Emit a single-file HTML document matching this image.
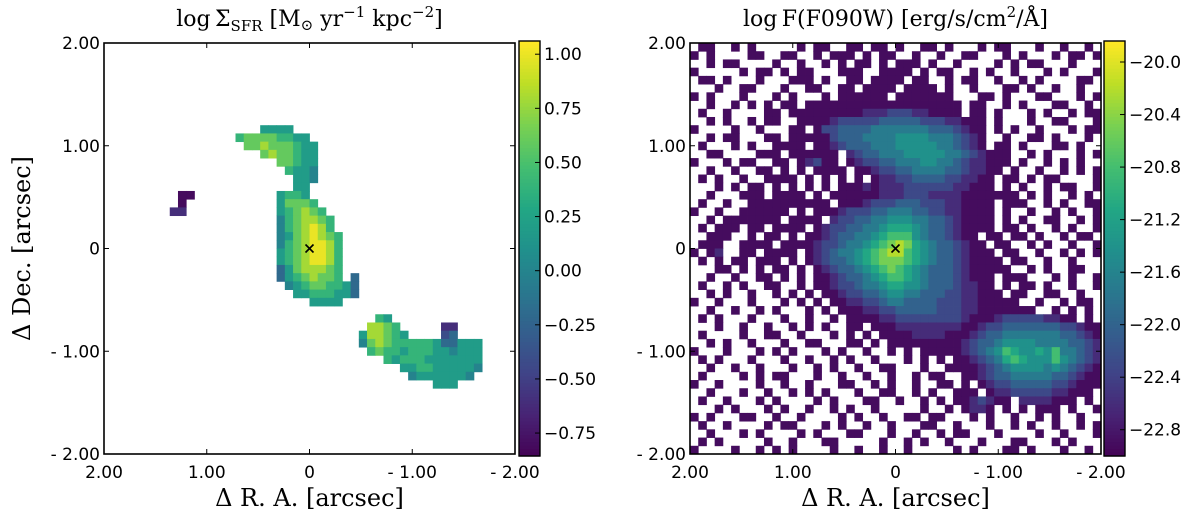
<!DOCTYPE html>
<html><head><meta charset="utf-8"><style>
body{margin:0;background:#fff;}
svg{display:block;}
.tk{font-family:"DejaVu Sans","Liberation Sans",sans-serif;font-size:17px;fill:#000;}
.sr{font-family:"DejaVu Serif","Liberation Serif",serif;fill:#000;}
</style></head><body>
<svg id="fig" width="1200" height="522" viewBox="0 0 1200 522" xmlns="http://www.w3.org/2000/svg"></svg>
<script>
// ---------- data ----------
const axisTicks = [2, 1, 0, -1, -2];
const axisTickLabels = ["2.00", "1.00", "0", "- 1.00", "- 2.00"];
const leftCbarRange = [-0.856, 1.061];
const leftCbarTicks = [1.0, 0.75, 0.5, 0.25, 0.0, -0.25, -0.5, -0.75];
const leftCbarLabels = ["1.00", "0.75", "0.50", "0.25", "0.00", "\u22120.25", "\u22120.50", "\u22120.75"];
const rightCbarRange = [-23.0, -19.84];
const rightCbarTicks = [-20.0, -20.4, -20.8, -21.2, -21.6, -22.0, -22.4, -22.8];
const rightCbarLabels = ["\u221220.0", "\u221220.4", "\u221220.8", "\u221221.2", "\u221221.6", "\u221222.0", "\u221222.4", "\u221222.8"];
// left map: level digit d -> value -0.8 + 0.2*d ; [row, startCol, digits]
const leftLevelBase = -0.8, leftLevelStep = 0.2;
const leftRows = [
 [10,19,"5555"],[11,16,"677776655"],[12,17,"778777655"],[13,19,"7877655"],[14,21,"77655"],
 [15,22,"6554"],[16,23,"554"],[17,23,"55"],[18,9,"00"],[18,21,"5665"],[19,9,"0"],[19,21,"57776"],
 [20,8,"11"],[20,21,"567876"],[21,21,"4678876"],[22,21,"4678986"],[23,21,"45789876"],[24,21,"46789986"],
 [25,21,"56789986"],[26,21,"56789986"],[27,21,"35788876"],[28,21,"35678776"],[28,30,"3"],
 [29,22,"456776653"],[30,23,"5566655"],[30,30,"3"],[31,25,"5555"],
 [33,33,"65"],[34,32,"8876"],[34,41,"11"],[35,31,"588765"],[35,41,"23"],
 [36,31,"478766666533555"],[37,32,"67665666554555"],[38,34,"656665555555"],
 [39,36,"5566555554"],[40,37,"45555554"],[41,40,"555"]
];
// right map: '.' = no data, digit d -> value -22.9 + 0.3*d (each row = 5 groups of 10 columns)
const rightLevelBase = -22.9, rightLevelStep = 0.3;
const rightRows = [
[".00..0.0..","...0.00..0","0.00.0..00",".0...0.00.","..0..0..0."],
["0.0....00.",".00..0.000",".0.00..0..","0..00...0.","0...0.00.0"],
["..0.00....","0..0..0.0.","00.0.000.0","..0....0.0",".00...0..."],
["0.....0.00",".0.00...00","0..0000.0.","00..0.0..0","...0.0...0"],
[".00.0...0.","..000.0..0","0.0000.00.",".0.00..0..","0.0....00."],
["...0..00..",".0..00..00",".0000.0000",".0..0...00",".0..0..0.."],
["0.0...0...","0.0...0.00","0000.00000","00...00.0.","..00...0.0"],
["..0..0.0.0",".00.000000","0000000000","000.00..0.","0...00..0."],
[".0..0....0","0.00000000","0111222110","000.00.0..",".0.0..0.00"],
["..0.0..0.0","0..0000122","2223333322","211000.0..",".0..00...0"],
["0....0..0.","..00.02233","3344444443","332100.0.0","..0...0.00"],
["..0.00...0","0.00000233","3444455554","443210..0.",".00.0...0."],
[".0...0.0..","0000.00123","3344455555","443210.00.","0...00.0.."],
["..00....00","0.000000.1","2334445555","544321000.",".0.0...0.0"],
["0...0.00..","00.01200.0","1223344455","443211000.","0..0.0.0.."],
["..0..0..00",".0.0.0000.","0012233444","43321100.0","..0..0.0.0"],
[".0.0..0..0","000.0.0.0.","0.01122333","3221100.00",".0.00....0"],
["...0.0.00.","0.0.0.0.00","0101112222","2211000.0.","0..0.00..0"],
["..0...000.","0000.0.000","0001112221","1110000000",".0.0..0.0."],
[".0..0..000","0000000.00","0122233322","2110000.00","0..0.0..00"],
["0..0..0000","00.0.00012","2233444332","2110000.0.",".0..0.0..0"],
["..0.000000","0.0000.122","3344555443","3210000.0.","0..00..0.0"],
[".0.000.00.","0000.01223","3445666543","3210000.00",".0..0.0..0"],
["..000..0.0","0.0.001233","4456777543","32100.00.0","0.0..0.00."],
[".000..0000",".000012234","4567898654","332100.00.",".0.0..0..0"],
["0.01..00.0","000.012344","5678997654","3321000.00","..0..0.0.0"],
[".0.0.00.00","0.0.012334","5678887654","33210000.0","0..0..0..."],
["...00.0.0.","00.0.01233","4567876543","332100000.",".0.0..00.."],
["..0..0..00",".0.0.00123","3456776543","3321000.00","0...0.0..0"],
[".0..0.0..0","0..0.00122","3445665543","3321100.0.","00.0..0..0"],
["..0.0..0..","0.0.0.0012","2334554433","32211000.0","0..00..0.."],
["0..0...0..",".0.0.0.001","1223443333","2221100000","..0..0.00."],
["..0..0..0.","0...0.0.00","0112233333","2221100000","00..0.0.0."],
[".0.0...0..",".0..0..0.0","0001122222","2221000122","2221100.0."],
["...0..0..0","..0.0.0..0","0.00011111","1110012233","3333322100"],
[".0....0..0","0..0...0.0",".0.0000111","1000123344","4444433210"],
["..0.0..0..",".0..00...0","0.0.000000","0001233455","5544443321"],
["0...0...0.","0.0...0.0.",".0..0.0.00","0001234576","5565744321"],
[".0.0...0..",".0..0..0.0","..0...0.0.","0.00123467","6555754321"],
["..0..0..0.","..0..0.0..","0..00...0.",".000012345","5554543210"],
[".0....0.0.","00...0..0.",".0..0..0.0","0..0012334","4444332100"],
["0..0....0.",".0..0...00","..0.0..0..","00.0.01223","3333221000"],
["..0...0..0","..0.0.0...","0..00..0.0","..000.0112","222211000."],
[".0..0...0.","0....0.0..",".00..0..0.","0.0012100.","1111000.0."],
["...0.0...0",".0..0..0.0","..0.....0.",".0.0110.0.","0.000.0..0"],
["0.0...00..","0..0....0.","0..0..00.0","0...0.0..0","..0.0..0.."],
[".0..0....0",".00...0.0.",".0..0...00","..0...0..0",".0..0..0.0"],
["..0...0.0.","...0.0...0","0...0..0..","0.00...0..","..0..0...0"],
[".0.0.....0","..0...00..","...0..0.0.",".0...0...0","0...0.0..."],
["0....0..0.","0.0....0..","0..0..0...","..0.0...00",".0...0..0."]
];
// ---------- helpers ----------
const NS = "http://www.w3.org/2000/svg";
const svg = document.getElementById("fig");
function mk(tag, attrs, parent) {
  const e = document.createElementNS(NS, tag);
  for (const k in attrs) e.setAttribute(k, attrs[k]);
  (parent || svg).appendChild(e);
  return e;
}
const VIR = [[68,1,84],[72,35,116],[64,67,135],[52,94,141],[41,120,142],[32,144,140],[34,167,132],[68,190,112],[121,209,81],[189,222,38],[253,231,37]];
function viridis(t) {
  t = Math.max(0, Math.min(1, t));
  const p = t * (VIR.length - 1), i = Math.min(VIR.length - 2, Math.floor(p)), f = p - i;
  const a = VIR[i], b = VIR[i + 1];
  return "rgb(" + [0,1,2].map(k => Math.round(a[k] + (b[k] - a[k]) * f)).join(",") + ")";
}
const AX_SIZE = 411, AX_TOP = 43, NCELL = 50;
function panel(name, x0, cbX, cbRange, cbTicks, cbLabels, showYLabel) {
  const g = mk("g", {});
  
  
  const sx = v => x0 + (2 - v) / 4 * AX_SIZE;
  const sy = v => AX_TOP + (2 - v) / 4 * AX_SIZE;
  const cell = AX_SIZE / NCELL;
  const map = mk("g", {}, g);
  
  
  const cbY = v => AX_TOP - 2 + (cbRange[1] - v) / (cbRange[1] - cbRange[0]) * (AX_SIZE + 4);
  return {g, map, sx, sy, cell, cbY, x0, cbX, cbRange, cbTicks, cbLabels, showYLabel};
}
function drawCell(P, r, c, v) {
  const t = (v - P.cbRange[0]) / (P.cbRange[1] - P.cbRange[0]);
  const rc = mk("rect", {x: (P.x0 + c * P.cell).toFixed(2), y: (AX_TOP + r * P.cell).toFixed(2), width: (P.cell + 0.4).toFixed(2), height: (P.cell + 0.4).toFixed(2), fill: viridis(t)}, P.map);
  
  
}
function decorate(P) {
  const g = P.g;
  const frame = mk("rect", {x: P.x0, y: AX_TOP, width: AX_SIZE, height: AX_SIZE, fill: "none", stroke: "#000", "stroke-width": 1.6}, g);
  
  
  axisTicks.forEach((v, i) => {
    const x = P.sx(v), y = P.sy(v);
    mk("line", {x1: x, y1: AX_TOP + AX_SIZE, x2: x, y2: AX_TOP + AX_SIZE - 5, stroke: "#000"}, g);
    mk("line", {x1: x, y1: AX_TOP, x2: x, y2: AX_TOP + 5, stroke: "#000"}, g);
    mk("line", {x1: P.x0, y1: y, x2: P.x0 + 5, y2: y, stroke: "#000"}, g);
    mk("line", {x1: P.x0 + AX_SIZE, y1: y, x2: P.x0 + AX_SIZE - 5, y2: y, stroke: "#000"}, g);
    const xt = mk("text", {x: x, y: AX_TOP + AX_SIZE + 24, "text-anchor": "middle", class: "tk"}, g);
    xt.textContent = axisTickLabels[i];
    
    
    const yt = mk("text", {x: P.x0 - 4, y: y + 6, "text-anchor": "end", class: "tk"}, g);
    yt.textContent = axisTickLabels[i];
    
    
  });
  const cx = P.sx(0), cy = P.sy(0);
  const mkX = mk("path", {d: `M${cx-4},${cy-4}L${cx+4},${cy+4}M${cx-4},${cy+4}L${cx+4},${cy-4}`, stroke: "#000", "stroke-width": 1.6}, g);
  
  
  const cb = mk("g", {}, g);
  
  
  const n = 120, top = P.cbY(P.cbRange[1]), bot = P.cbY(P.cbRange[0]);
  for (let i = 0; i < n; i++) {
    const y = top + (bot - top) * i / n;
    mk("rect", {x: P.cbX, y: y.toFixed(2), width: 21, height: ((bot - top) / n + 0.6).toFixed(2), fill: viridis(1 - i / n)}, cb);
  }
  mk("rect", {x: P.cbX, y: top, width: 21, height: bot - top, fill: "none", stroke: "#000", "stroke-width": 1.4}, cb);
  P.cbTicks.forEach((v, i) => {
    const y = P.cbY(v);
    mk("line", {x1: P.cbX + 21, y1: y, x2: P.cbX + 16, y2: y, stroke: "#000"}, cb);
    const t = mk("text", {x: P.cbX + 25, y: y + 6, class: "tk", "font-size": 18}, cb);
    t.textContent = P.cbLabels[i];
    
    
  });
  const xl = mk("text", {x: P.sx(0), y: 506, "text-anchor": "middle", class: "sr", "font-size": 24}, g);
  xl.textContent = "\u0394 R. A.  [arcsec]";
  
  
  if (P.showYLabel) {
    const yl = mk("text", {x: 0, y: 0, "text-anchor": "middle", class: "sr", "font-size": 24, transform: `translate(30,${P.sy(0)}) rotate(-90)`}, g);
    yl.textContent = "\u0394 Dec.  [arcsec]";
    
    
  }
}
// ---------- left panel ----------
const L = panel("sfr-panel", 104, 519, leftCbarRange, leftCbarTicks, leftCbarLabels, true);
leftRows.forEach(([r, c0, s]) => {
  for (let k = 0; k < s.length; k++) drawCell(L, r, c0 + k, leftLevelBase + leftLevelStep * (+s[k]));
});
decorate(L);
const t1 = mk("text", {x: L.sx(0), y: 26, "text-anchor": "middle", class: "sr", "font-size": 22}, L.g);


t1.innerHTML = 'log\u2009\u03A3<tspan font-size="15" dy="5">SFR</tspan><tspan dy="-5"> [M</tspan><tspan font-size="15" dy="4">\u2299</tspan><tspan dy="-4"> yr</tspan><tspan font-size="15" dy="-9">\u22121</tspan><tspan dy="9"> kpc</tspan><tspan font-size="15" dy="-9">\u22122</tspan><tspan dy="9">]</tspan>';
// ---------- right panel ----------
const R = panel("flux-panel", 690, 1104, rightCbarRange, rightCbarTicks, rightCbarLabels, false);
rightRows.forEach((groups, r) => {
  const s = groups.join("");
  for (let c = 0; c < Math.min(50, s.length); c++) {
    const ch = s[c];
    if (ch >= "0" && ch <= "9") drawCell(R, r, c, rightLevelBase + rightLevelStep * (+ch));
  }
});
decorate(R);
const t2 = mk("text", {x: R.sx(0), y: 26, "text-anchor": "middle", class: "sr", "font-size": 22}, R.g);


t2.innerHTML = 'log\u2009F(F090W) [erg/s/cm<tspan font-size="15" dy="-9">2</tspan><tspan dy="9">/\u00C5]</tspan>';
</script>
</body></html>
